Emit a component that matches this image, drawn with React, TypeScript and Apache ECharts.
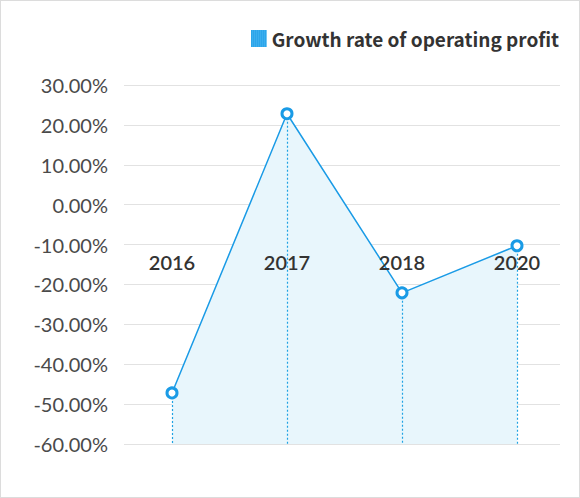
import { useEffect, useRef } from "react";
import * as echarts from "echarts";

const years = ["2016", "2017", "2018", "2020"];
const growthRate = [-47.2, 22.8, -22.1, -10.3];
const seriesName = "Growth rate of operating profit";
const yMin = -60;
const yMax = 30;
const yStep = 10;

const stripeIcon =
  "image://data:image/svg+xml;utf8," +
  encodeURIComponent(
    '<svg xmlns="http://www.w3.org/2000/svg" width="16" height="17">' +
      '<rect width="16" height="17" fill="#1a9be6"/>' +
      [1, 3, 5, 7, 9, 11, 13, 15]
        .map((x) => `<rect x="${x}" y="0" width="0.8" height="17" fill="#5cc0f5"/>`)
        .join("") +
      "</svg>",
  );

export default function App() {
  const chartRef = useRef<HTMLDivElement | null>(null);

  useEffect(() => {
    const el = chartRef.current;
    if (!el) {
      return undefined;
    }

    const chart = echarts.init(el, undefined, { renderer: "svg" });

    chart.setOption({
      animation: false,
      grid: [
        { left: 123, right: 19, top: 84, bottom: 53 },
        { left: 113.5, width: 460, top: 84, bottom: 53 },
      ],
      legend: {
        right: 15,
        top: 23,
        icon: stripeIcon,
        itemWidth: 16,
        itemHeight: 17,
        itemGap: 6,
        textStyle: {
          color: "#333",
          fontFamily: "'Noto Sans CJK KR', 'Noto Sans', sans-serif",
          fontSize: 19,
          fontWeight: "bold",
        },
        data: [seriesName],
      },
      xAxis: [
        { type: "category", gridIndex: 0, show: false, data: years },
        {
          type: "category",
          gridIndex: 1,
          data: years,
          boundaryGap: true,
          offset: -200,
          z: 10,
          axisLine: { show: false },
          axisTick: { show: false },
          axisLabel: {
            margin: 8,
            interval: 0,
            color: "#333",
            fontFamily: "Lato, sans-serif",
            fontSize: 20,
            fontWeight: 600,
          },
        },
      ],
      yAxis: [
        {
          type: "value",
          gridIndex: 0,
          min: yMin,
          max: yMax,
          interval: yStep,
          axisLine: { show: false },
          axisTick: { show: false },
          splitLine: { lineStyle: { color: "#e2e2e2", width: 1 } },
          axisLabel: {
            margin: 16,
            color: "#4a4a4a",
            fontFamily: "Lato, sans-serif",
            fontSize: 20,
            formatter: (v: number) => `${v.toFixed(2)}%`,
          },
        },
        { type: "value", gridIndex: 1, min: yMin, max: yMax, interval: yStep, show: false },
      ],
      series: [
        {
          name: seriesName,
          type: "line",
          xAxisIndex: 1,
          yAxisIndex: 1,
          data: growthRate,
          showSymbol: false,
          lineStyle: { color: "#1a9be6", width: 1.5 },
          itemStyle: { color: "#1a9be6" },
          areaStyle: { color: "#e8f6fc", opacity: 1, origin: "start" },
          markLine: {
            silent: true,
            symbol: ["none", "none"],
            label: { show: false },
            lineStyle: { color: "#1fa3e3", type: [2, 2], width: 1.2 },
            data: growthRate.map((v, i) => [
              { coord: [years[i], v] },
              { coord: [years[i], yMin] },
            ]),
          },
          z: 3,
        },
        {
          name: "points",
          type: "scatter",
          xAxisIndex: 1,
          yAxisIndex: 1,
          data: growthRate,
          symbol: "circle",
          symbolSize: 10,
          itemStyle: { color: "#ffffff", borderColor: "#1a9be6", borderWidth: 3, opacity: 1 },
          silent: true,
          z: 12,
        },
      ],
    });

    return () => {
      chart.dispose();
    };
  }, []);

  return (
    <div
      style={{
        position: "absolute",
        left: 0,
        top: 0,
        width: 580,
        height: 498,
        boxSizing: "border-box",
        border: "1px solid #dcdcdc",
        background: "#fff",
      }}
    >
      <div ref={chartRef} style={{ width: "100%", height: "100%" }} />
    </div>
  );
}
